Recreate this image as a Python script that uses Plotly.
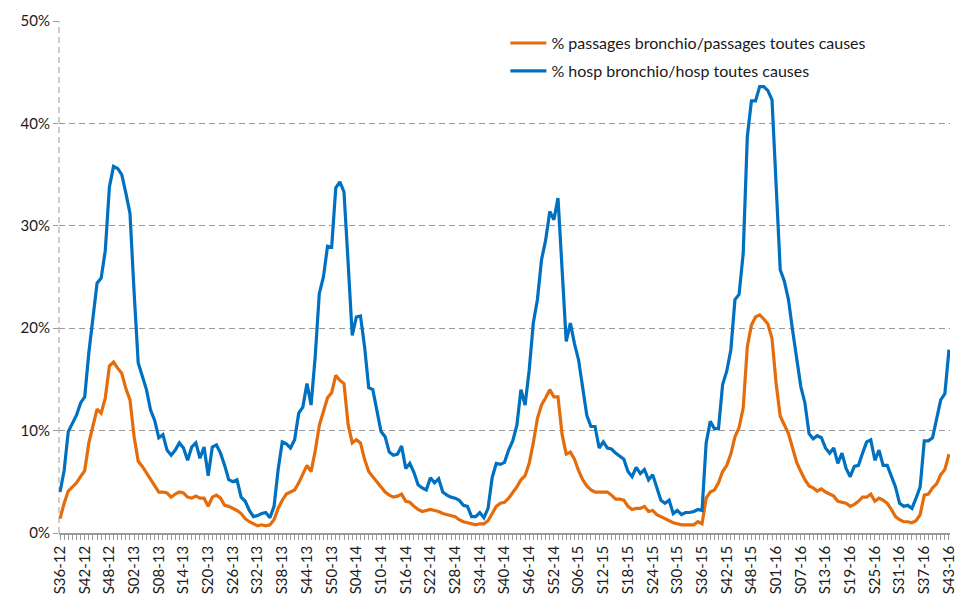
import plotly.graph_objects as go

# Week labels: S36-12 ... S43-16 (2015 has 53 ISO weeks)
year_weeks = [(12, 36, 52), (13, 1, 52), (14, 1, 52), (15, 1, 53), (16, 1, 43)]
weeks = [f"S{w:02d}-{y:02d}" for (y, a, b) in year_weeks for w in range(a, b + 1)]

passages = [
    1.4, 2.9, 4.1, 4.5, 4.9, 5.5, 6.1, 8.8, 10.4, 12.1, 11.7, 13.2, 16.3, 16.7, 16.1, 15.6, 14.1, 13.0, 9.4, 7.0,
    6.5, 5.9, 5.2, 4.6, 4.0, 4.0, 3.9, 3.5, 3.8, 4.0, 3.9, 3.5, 3.4, 3.6, 3.4, 3.4, 2.6, 3.5, 3.7, 3.4,
    2.7, 2.6, 2.4, 2.2, 1.9, 1.4, 1.1, 0.9, 0.7, 0.8, 0.7, 0.8, 1.3, 2.4, 3.2, 3.8, 4.0, 4.2, 4.9, 5.7,
    6.6, 6.0, 8.0, 10.5, 12.0, 13.2, 13.7, 15.4, 14.9, 14.6, 10.6, 8.8, 9.1, 8.8, 7.2, 6.0, 5.5, 5.0, 4.4, 4.0,
    3.7, 3.5, 3.6, 3.8, 3.1, 3.0, 2.6, 2.3, 2.1, 2.2, 2.3, 2.2, 2.1, 1.9, 1.8, 1.7, 1.6, 1.3, 1.1, 1.0,
    0.9, 0.8, 0.9, 0.9, 1.2, 1.9, 2.6, 2.9, 3.0, 3.4, 3.9, 4.5, 5.2, 5.6, 6.8, 8.8, 11.2, 12.5, 13.2, 14.0,
    13.3, 13.3, 9.6, 7.7, 7.9, 7.2, 6.1, 5.2, 4.6, 4.2, 4.0, 4.0, 4.0, 4.0, 3.7, 3.3, 3.3, 3.2, 2.6, 2.3,
    2.4, 2.4, 2.6, 2.1, 2.2, 1.8, 1.6, 1.4, 1.2, 1.0, 0.9, 0.8, 0.8, 0.8, 0.8, 1.1, 0.9, 3.4, 4.0, 4.2,
    4.9, 6.0, 6.6, 7.7, 9.4, 10.3, 12.2, 18.2, 20.3, 21.1, 21.3, 20.9, 20.4, 19.0, 14.6, 11.4, 10.5, 9.7, 8.3, 6.9,
    6.0, 5.2, 4.6, 4.4, 4.1, 4.3, 4.0, 3.8, 3.6, 3.1, 3.0, 2.9, 2.6, 2.8, 3.1, 3.5, 3.5, 3.8, 3.1, 3.4,
    3.2, 2.9, 2.3, 1.6, 1.3, 1.1, 1.1, 1.0, 1.2, 1.8, 3.7, 3.8, 4.4, 4.8, 5.7, 6.2, 7.7,
]

hosp = [
    4.0, 6.1, 9.9, 10.7, 11.5, 12.7, 13.3, 17.6, 21.1, 24.4, 24.9, 27.6, 33.8, 35.8, 35.6, 35.0, 33.2, 31.2, 23.5, 16.6,
    15.3, 14.0, 12.0, 11.0, 9.3, 9.6, 8.1, 7.6, 8.1, 8.8, 8.3, 7.1, 8.4, 8.8, 7.3, 8.4, 5.6, 8.4, 8.6, 7.8,
    6.6, 5.2, 5.0, 5.2, 3.5, 3.1, 2.2, 1.6, 1.7, 1.9, 2.0, 1.5, 2.6, 6.2, 8.9, 8.7, 8.3, 9.1, 11.7, 12.3,
    14.6, 12.5, 17.2, 23.4, 25.0, 28.0, 27.9, 33.7, 34.3, 33.3, 26.4, 19.3, 21.1, 21.2, 18.2, 14.2, 14.0, 12.0, 9.9, 9.4,
    7.9, 7.6, 7.7, 8.5, 6.3, 6.8, 5.9, 4.7, 4.4, 4.2, 5.4, 4.9, 5.3, 4.0, 3.7, 3.5, 3.4, 3.2, 2.7, 2.6,
    1.6, 1.6, 2.0, 1.5, 2.4, 5.4, 6.8, 6.7, 6.9, 8.1, 9.0, 10.5, 14.0, 12.5, 15.9, 20.5, 22.8, 26.7, 28.6, 31.4,
    30.6, 32.7, 25.4, 18.7, 20.5, 18.5, 16.9, 14.3, 11.5, 10.4, 10.4, 8.3, 8.9, 8.3, 8.2, 7.8, 7.5, 7.2, 6.0, 5.5,
    6.4, 5.8, 6.2, 5.2, 5.7, 4.4, 3.2, 2.9, 3.2, 1.9, 2.2, 1.8, 2.0, 2.0, 2.1, 2.3, 2.2, 8.8, 10.9, 10.2,
    10.2, 14.5, 15.8, 17.9, 22.8, 23.3, 27.3, 38.7, 42.2, 42.2, 43.6, 43.6, 43.2, 42.3, 34.5, 25.7, 24.6, 22.8, 19.8, 16.9,
    14.3, 12.7, 9.7, 9.2, 9.5, 9.3, 8.3, 7.8, 8.3, 6.8, 7.8, 6.3, 5.5, 6.5, 6.6, 7.8, 8.9, 9.1, 7.1, 8.1,
    6.6, 6.6, 5.5, 4.5, 2.9, 2.6, 2.7, 2.4, 3.4, 4.5, 9.0, 9.0, 9.3, 11.0, 13.0, 13.6, 17.9,
]

assert len(weeks) == len(passages) == len(hosp) == 217

series_names = ["% passages bronchio/passages toutes causes", "% hosp bronchio/hosp toutes causes"]
series_colors = ["#E46C0A", "#0070C0"]
y_ticks = [0, 10, 20, 30, 40, 50]
y_tick_text = [f"{v}%" for v in y_ticks]

tick_text = [w if i % 6 == 0 else "" for i, w in enumerate(weeks)]

fig = go.Figure()
for name, vals, col, grp in zip(series_names, [passages, hosp], series_colors, ["a", "b"]):
    fig.add_trace(go.Scatter(
        x=weeks, y=vals, mode="lines", name=name, legendgroup=grp,
        line=dict(color=col, width=3.2),
    ))

grid_col = "#9A9A9A"
fig.update_layout(
    width=957, height=599,
    margin=dict(l=59, r=7, t=21, b=66),
    paper_bgcolor="white", plot_bgcolor="white",
    font=dict(family="Lato, 'Open Sans', sans-serif", color="#1a1a1a"),
    showlegend=True,
    legend=dict(
        x=0.501, y=0.99, xanchor="left", yanchor="top",
        bgcolor="rgba(0,0,0,0)", font=dict(size=16, color="#1a1a1a"),
        tracegroupgap=4, itemwidth=36,
    ),
    xaxis=dict(
        type="category", range=[-0.25, 216.25],
        tickmode="array", tickvals=weeks, ticktext=tick_text,
        tickangle=-90, tickfont=dict(size=15),
        ticks="outside", ticklen=5, tickcolor=grid_col, tickwidth=1,
        showline=True, linecolor=grid_col, linewidth=1.5,
        showgrid=False, zeroline=False, automargin=False,
    ),
    yaxis=dict(
        range=[0, 50], tickmode="array", tickvals=y_ticks, ticktext=y_tick_text,
        tickfont=dict(size=15),
        ticks="outside", ticklen=5, tickcolor=grid_col,
        showgrid=True, gridcolor=grid_col, griddash="6px,4px", gridwidth=1,
        zeroline=False, showline=False, automargin=False,
    ),
    shapes=[dict(type="line", xref="paper", yref="paper", x0=0, x1=0, y0=0, y1=1,
                 line=dict(color=grid_col, width=1, dash="6px,4px"), layer="below")],
)

fig.write_html("out.html", config={"displayModeBar": False},
               post_script="document.body.style.margin='0';")
